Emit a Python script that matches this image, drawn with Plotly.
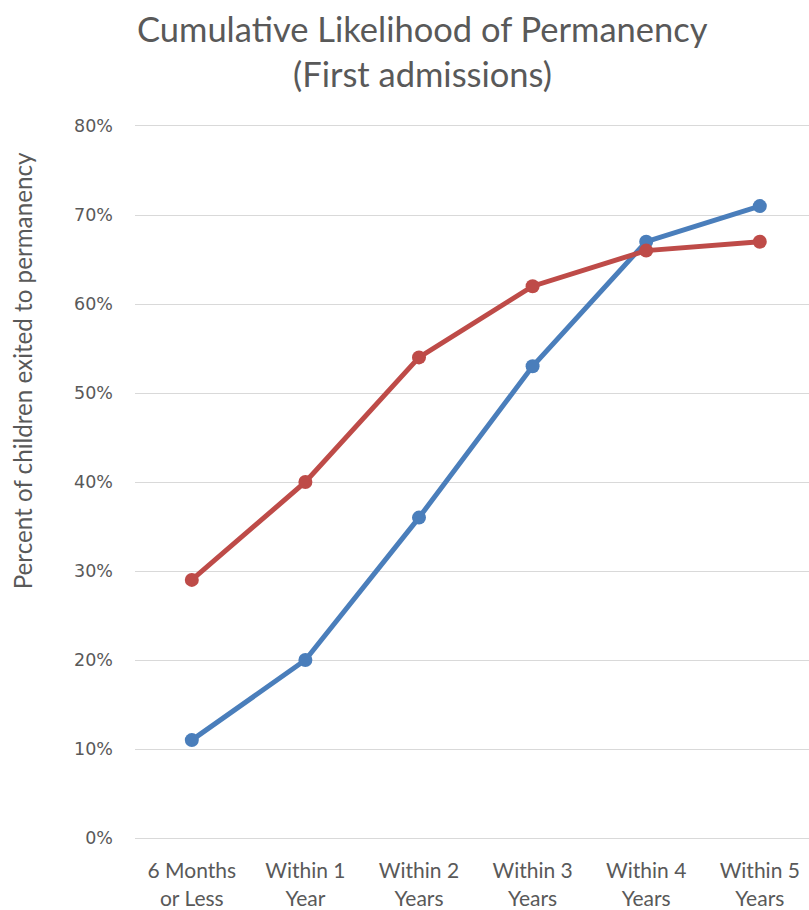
import plotly.graph_objects as go

categories = ["6 Months<br>or Less", "Within 1<br>Year", "Within 2<br>Years",
              "Within 3<br>Years", "Within 4<br>Years", "Within 5<br>Years"]
blue_values = [11, 20, 36, 53, 67, 71]
red_values = [29, 40, 54, 62, 66, 67]
y_ticks = [0, 10, 20, 30, 40, 50, 60, 70, 80]
y_tick_labels = ["0%", "10%", "20%", "30%", "40%", "50%", "60%", "70%", "80%"]
title_lines = ["Cumulative Likelihood of Permanency", "(First admissions)"]
y_title = "Percent of children exited to permanency"

W, H = 809, 910
L, R, T, B = 135, 0, 126, 70
pw, ph = W - L - R, H - T - B

def px_x(px):
    return (px - L) / pw

def px_y(py):
    return (H - B - py) / ph

x_idx = list(range(len(categories)))
fig = go.Figure()
fig.add_trace(go.Scatter(x=x_idx, y=blue_values, mode="lines+markers",
                         line=dict(color="#4A7EBB", width=5),
                         marker=dict(size=14, color="#4A7EBB"), cliponaxis=False))
fig.add_trace(go.Scatter(x=x_idx, y=red_values, mode="lines+markers",
                         line=dict(color="#BE4B48", width=5),
                         marker=dict(size=14, color="#BE4B48"), cliponaxis=False))

fig.update_layout(
    width=W, height=H, margin=dict(l=L, r=R, t=T, b=B),
    plot_bgcolor="white", paper_bgcolor="white", showlegend=False,
    font=dict(family="Lato", color="#595959"),
)
fig.update_xaxes(
    range=[-0.5, -0.5 + pw / 113.6], tickmode="array", tickvals=x_idx, ticktext=categories,
    showgrid=False, zeroline=False, showline=True, linecolor="#D9D9D9", linewidth=1.3,
    mirror=True, ticks="", ticklabelstandoff=14,
    tickfont=dict(family="Lato", size=21, color="#595959"),
)
fig.update_yaxes(
    range=[0, 80], tickmode="array", tickvals=y_ticks, ticktext=y_tick_labels,
    showgrid=True, gridcolor="#D9D9D9", gridwidth=1.3, zeroline=False, showline=False,
    ticks="", ticklabelstandoff=21,
    tickfont=dict(family="DejaVu Sans", size=17.5, color="#595959"),
)

fig.add_annotation(text=title_lines[0], x=px_x(422), y=px_y(28), xref="paper", yref="paper",
                   showarrow=False, xanchor="center", yanchor="middle",
                   font=dict(family="Lato", size=34.5, color="#595959"))
fig.add_annotation(text=title_lines[1], x=px_x(422), y=px_y(73), xref="paper", yref="paper",
                   showarrow=False, xanchor="center", yanchor="middle",
                   font=dict(family="Lato", size=34.5, color="#595959"))
fig.add_annotation(text=y_title, x=px_x(22), y=px_y(372), xref="paper", yref="paper",
                   showarrow=False, xanchor="center", yanchor="middle", textangle=-90,
                   font=dict(family="Lato", size=24.2, color="#595959"))

fig.write_html("out.html", config={"displayModeBar": False},
               post_script="document.body.style.margin='0';document.body.style.overflow='hidden';")
